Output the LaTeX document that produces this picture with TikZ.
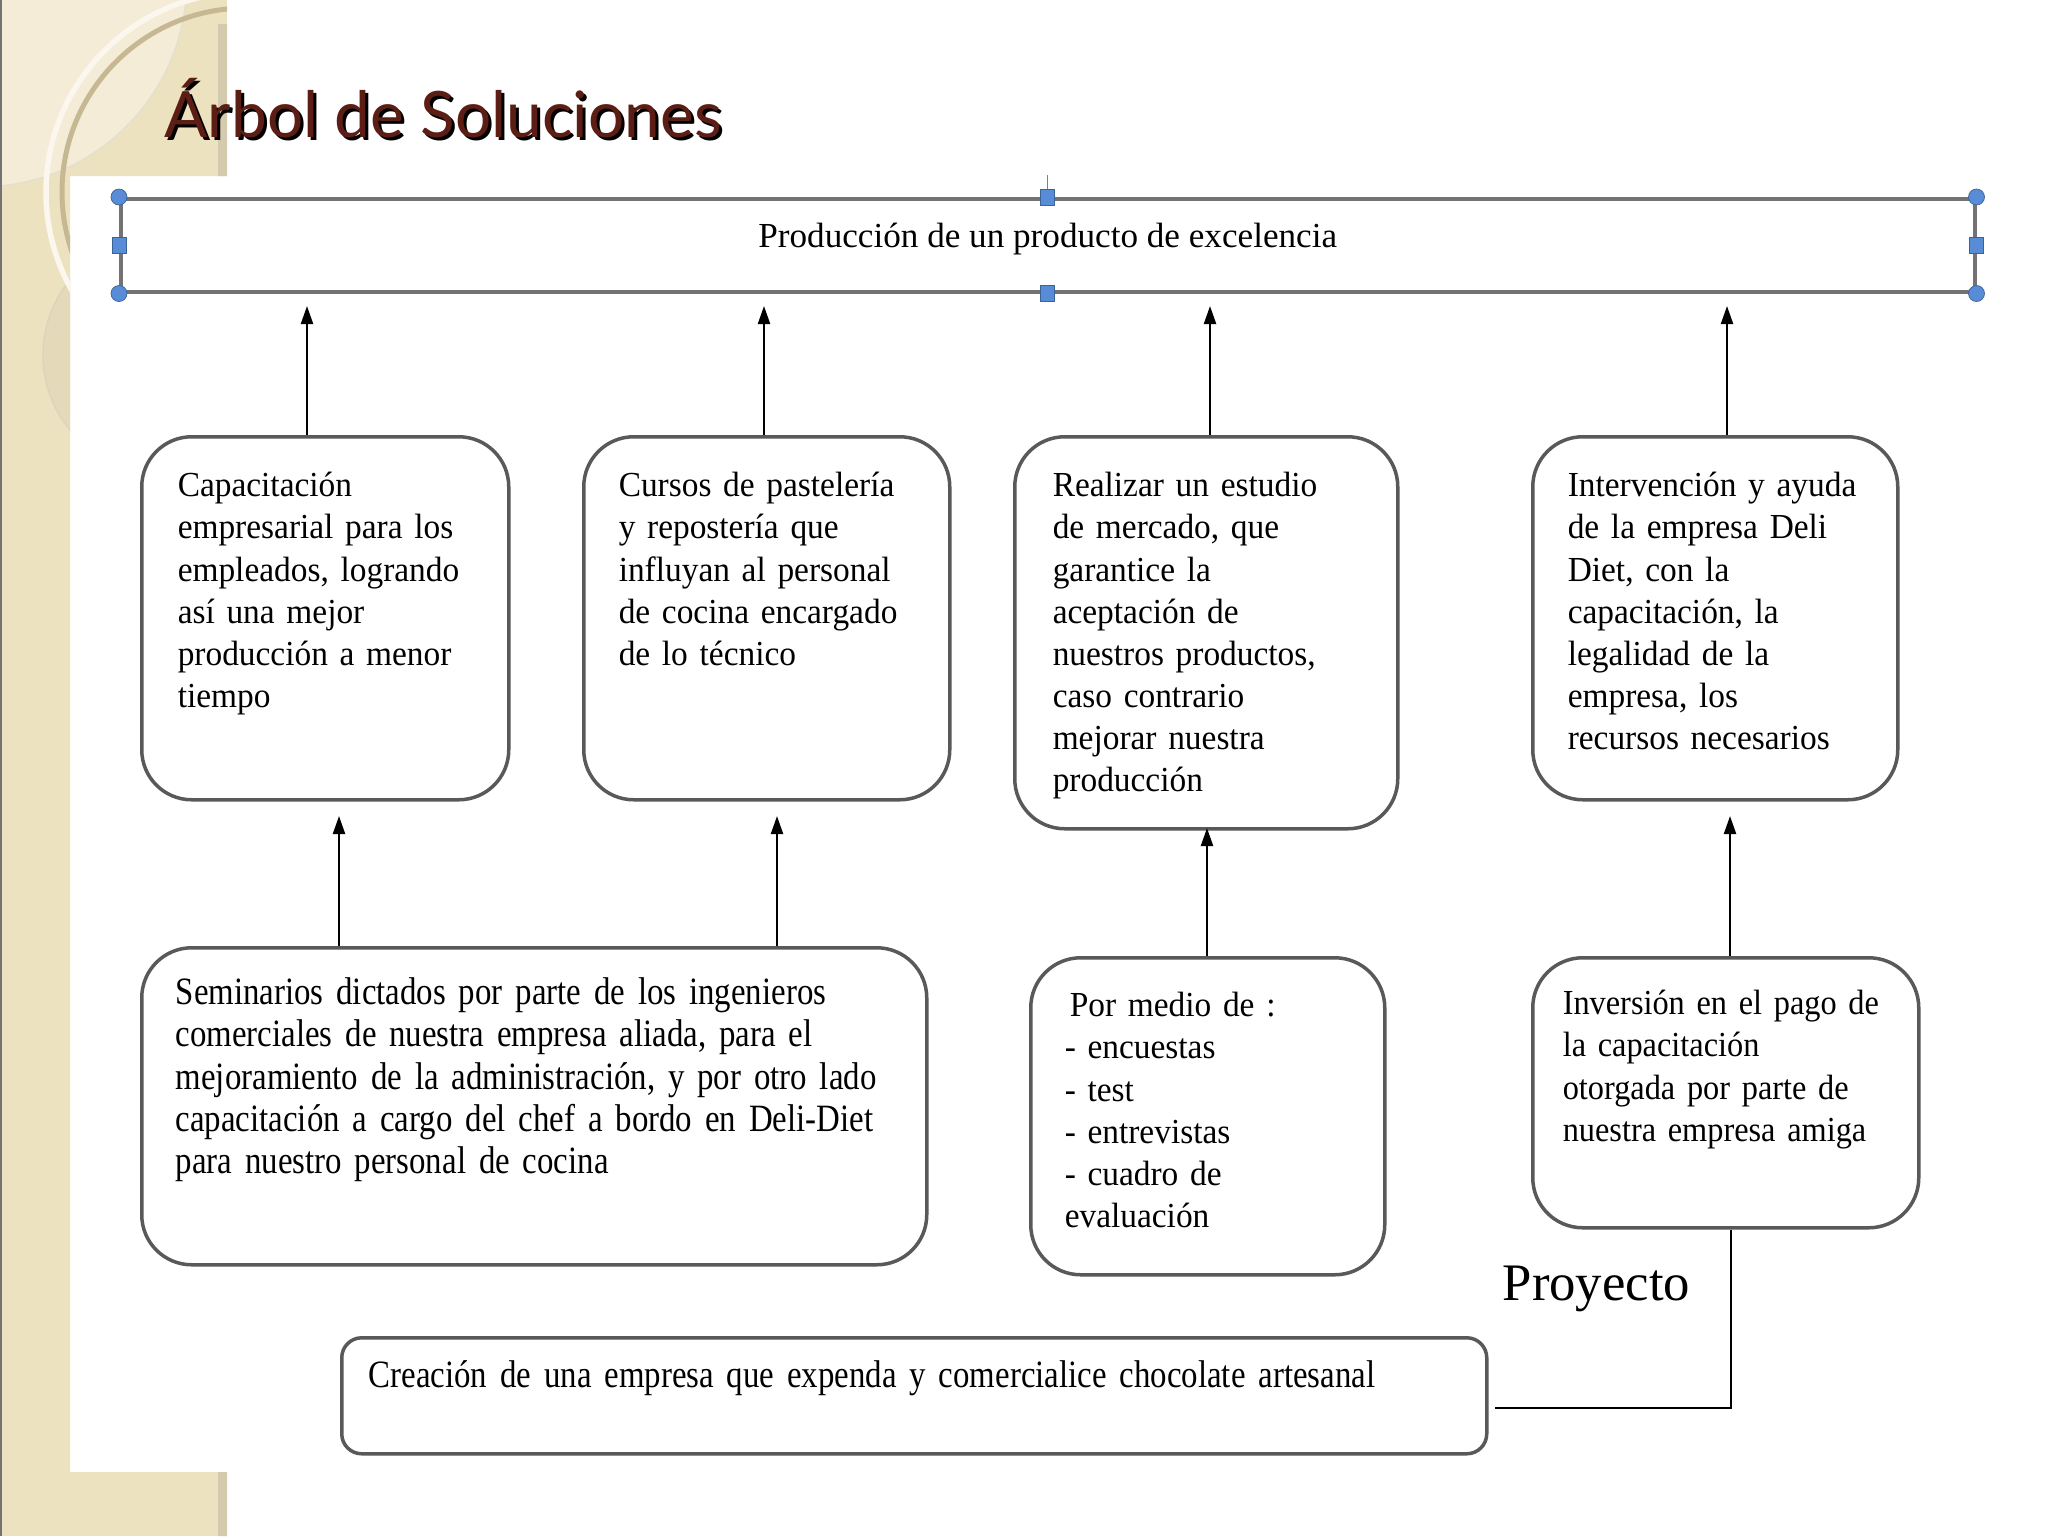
\documentclass[tikz,border=0pt]{standalone}
\usepackage{fontspec}
\setmainfont{Liberation Serif}[FakeStretch=0.95]
\newfontfamily\ancha{Liberation Serif}
\newfontfamily\media{Liberation Serif}[FakeStretch=0.92]
\newfontfamily\angosta{Liberation Serif}[FakeStretch=0.85]
\newfontfamily\titulo{Lato}
\usetikzlibrary{arrows.meta}
\hyphenpenalty=10000
\exhyphenpenalty=10000
\definecolor{beige}{RGB}{237,226,191}
\definecolor{crema}{RGB}{244,236,214}
\definecolor{arena}{RGB}{228,217,184}
\definecolor{tostado}{RGB}{198,184,146}
\definecolor{marron}{RGB}{92,30,20}
\definecolor{azul}{RGB}{88,140,214}
\tikzset{
  caja/.style={draw=black!65, line width=0.35mm, rounded corners=5mm, anchor=north west,
    align=left, inner ysep=0pt, font=\fontsize{10}{12}\selectfont},
  flecha/.style={line width=0.22mm, -{Triangle[length=1.8mm, width=1.2mm]}},
  tirador/.style={fill=azul, draw=azul!70!black, line width=0.2pt},
}
\begin{document}
\begin{tikzpicture}[x=0.1mm, y=-0.1mm]
      \useasboundingbox (0,0) rectangle (2048,1536);
      % fondo de la diapositiva
      \fill[white] (0,0) rectangle (2048,1536);
      \begin{scope}
        \clip (0,0) rectangle (227,176) (0,176) rectangle (70,1472) (0,1472) rectangle (227,1536);
        \fill[beige] (0,0) rectangle (227,1536);
        \fill[crema] (-20,-20) circle (20.7mm);
        \draw[tostado!45, line width=0.15mm] (-20,-20) circle (20.7mm);
        \fill[arena] (161,355) circle (11.8mm);
        \draw[tostado!60, line width=0.15mm] (161,355) circle (11.8mm);
        \draw[crema!40!white, line width=0.55mm] (246,192) circle (20mm);
        \draw[tostado, line width=0.5mm] (246,192) circle (18.4mm);
        \fill[tostado!75] (218,24) rectangle (227,176) (218,1472) rectangle (227,1536);
        \fill[black!55] (0,0) rectangle (2,1536);
      \end{scope}

      % titulo
      \node[anchor=base west, inner sep=0, font=\titulo\fontsize{18.2}{20}\selectfont, text=black] (sombra) at (167,140) {Árbol de Soluciones};
      \node[anchor=base west, inner sep=0, font=\titulo\fontsize{18.2}{20}\selectfont, text=marron] (titulo) at (164,137) {Árbol de Soluciones};

      % objetivo
      \node[draw=gray!90!black, line width=0.35mm, anchor=north west, minimum width=185.4mm,
            inner ysep=0pt, text height=4.9mm, text depth=4.4mm, font=\ancha\fontsize{10}{12}\selectfont] (meta) at (119,197)
            {Producción de un producto de excelencia};
      \draw[gray] (meta.north) -- ++(0,-22);
      \foreach \p in {north west, north east, south west, south east}
        \filldraw[tirador] (meta.\p) circle (0.8mm);
      \foreach \p in {north, south, west, east}
        \filldraw[tirador] ([shift={(-7,-8)}]meta.\p) rectangle ++(14,16);

      % medios
      \node[caja, inner xsep=3.6mm, text width=29.5mm, text height=6mm, text depth=30.3mm] (b1) at (140,435)
            {Capacitación\\ empresarial para los\\ empleados, logrando\\ así una mejor\\ producción a menor\\ tiempo};
      \node[caja, inner xsep=3.5mm, text width=29.6mm, text height=6mm, text depth=30.3mm] (b2) at (582,435)
            {Cursos de pastelería\\ y repostería que\\ influyan al personal\\ de cocina encargado\\ de lo técnico};
      \node[caja, inner xsep=3.8mm, text width=30.7mm, text height=6mm, text depth=33.2mm] (b3) at (1013,435)
            {Realizar un estudio\\ de mercado, que\\ garantice la\\ aceptación de\\ nuestros productos,\\ caso contrario\\ mejorar nuestra\\ producción};
      \node[caja, inner xsep=3.5mm, text width=29.5mm, text height=6mm, text depth=30.3mm] (b4) at (1531,435)
            {Intervención y ayuda\\ de la empresa Deli\\ Diet, con la\\ capacitación, la\\ legalidad de la\\ empresa, los\\ recursos necesarios};

      % acciones
      \node[caja, inner xsep=3.4mm, text width=71.7mm, text height=5.7mm, text depth=26mm,
            font=\angosta\fontsize{11}{12}\selectfont] (c1) at (140,946)
            {Seminarios dictados por parte de los ingenieros\\ comerciales de nuestra empresa aliada, para el\\ mejoramiento de la administración, y por otro lado\\ capacitación a cargo del chef a bordo en Deli-Diet\\ para nuestro personal de cocina};
      \node[caja, inner xsep=3.4mm, text width=28.6mm, text height=5.9mm, text depth=25.8mm] (c2) at (1029,956)
            {\hspace{0.5mm}Por medio de :\\ - encuestas\\ - test\\ - entrevistas\\ - cuadro de\\ evaluación};
      \node[caja, inner xsep=3mm, text width=32.6mm, text height=5.7mm, text depth=21.3mm,
            font=\media\fontsize{10}{12}\selectfont] (c3) at (1531,956)
            {Inversión en el pago de\\ la capacitación\\ otorgada por parte de\\ nuestra empresa amiga};

      % proyecto
      \node[caja, rounded corners=2mm, inner xsep=2.7mm, text width=109.1mm, text height=5mm, text depth=6.6mm,
            font=\angosta\fontsize{11}{12}\selectfont] (d) at (340,1336)
            {Creación de una empresa que expenda y comercialice chocolate artesanal};
      \node[anchor=base west, inner sep=0, font=\ancha\fontsize{15}{18}\selectfont] (proy) at (1502,1300) {Proyecto};

      % conectores
      \coordinate (p1) at (307,306);
      \coordinate (p2) at (764,306);
      \coordinate (p3) at (1210,306);
      \coordinate (p4) at (1727,306);
      \draw[flecha] (p1 |- b1.north) -- (p1);
      \draw[flecha] (p2 |- b2.north) -- (p2);
      \draw[flecha] (p3 |- b3.north) -- (p3);
      \draw[flecha] (p4 |- b4.north) -- (p4);
      \coordinate (q1) at (339,816);
      \coordinate (q2) at (777,816);
      \coordinate (q3) at (1207,828);
      \coordinate (q4) at (1730,816);
      \draw[flecha] (q1 |- c1.north) -- (q1);
      \draw[flecha] (q2 |- c1.north) -- (q2);
      \draw[flecha] (q3 |- c2.north) -- (q3);
      \draw[flecha] (q4 |- c3.north) -- (q4);
      \coordinate (codo) at (1731,1408);
      \coordinate (fin) at (1495,1408);
      \draw[line width=0.25mm] (codo |- c3.south) -- (codo) -- (fin);
\end{tikzpicture}
\end{document}
